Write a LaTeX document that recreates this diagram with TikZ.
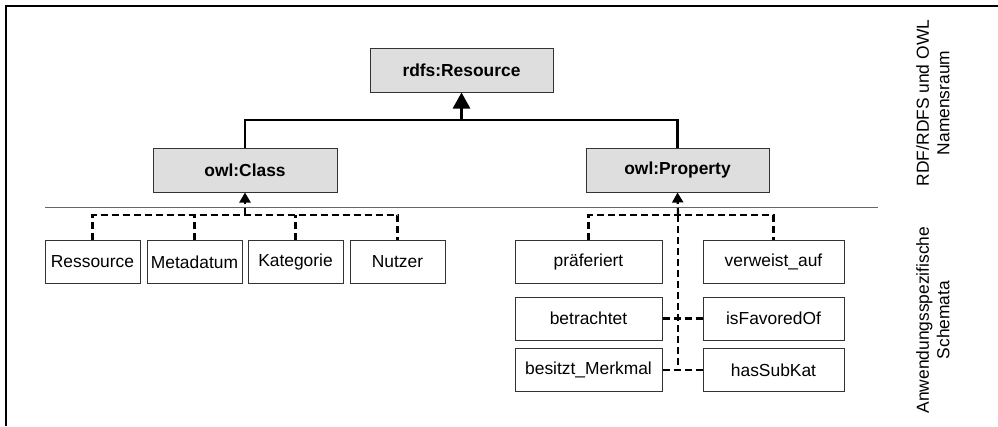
\documentclass[tikz,border=0pt]{standalone}
\usepackage{fontspec}
\setmainfont{Liberation Sans}
\usetikzlibrary{arrows.meta}

\newcommand{\boxfont}{\fontsize{17.4}{20.5}\selectfont}
\tikzset{
  graybox/.style={draw=black!80,line width=1pt,fill=black!13,font=\boxfont\bfseries,
    inner sep=0pt,minimum height=44pt},
  whitebox/.style={draw=black!80,line width=1pt,fill=white,font=\boxfont,
    inner sep=0pt,minimum height=43pt},
  solidlink/.style={line width=2.7pt},
  dashlink/.style={line width=2.2pt,dash pattern=on 7pt off 4pt},
}

\begin{document}
\begin{tikzpicture}[x=1pt,y=-1pt,font=\boxfont]
\path[use as bounding box] (0,0) rectangle (998,426);
% frame and separator
\draw[line width=1.5pt] (6,426)--(6,6)--(998,6);
\draw[black!60,line width=1pt] (45,207)--(878,207);

% RDF/RDFS and OWL
\node[graybox,minimum width=183pt] (res) at (461.5,70) {rdfs:Resource};
\node[graybox,minimum width=184pt] (cls) at (245,170) {owl:Class};
\node[graybox,minimum width=183pt] (prop) at (677.5,170) {owl:Property};
\coordinate (rj) at (461.5,120);
\draw[solidlink] (cls.north) |- (rj) -| (prop.north);
\draw[solidlink,-{Triangle[width=17pt,length=16pt]}] (rj) -- (res.south);

% classes
\node[whitebox,minimum width=95pt] (ress) at (92.5,262) {Ressource};
\node[whitebox,minimum width=95pt] (meta) at (194.5,262) {Metadatum};
\node[whitebox,minimum width=95pt] (kat) at (295.5,262) {Kategorie};
\node[whitebox,minimum width=95pt] (nutz) at (397.5,262) {Nutzer};
\coordinate (cj) at (245,215);
\draw[dashlink] (ress.north) |- (cj) -| (nutz.north);
\draw[dashlink] (meta.north) -- (meta.north |- cj) (kat.north) -- (kat.north |- cj);
\draw[dashlink,-{Triangle[width=11pt,length=10pt]}] (cj) -- (cls.south);

% properties
\node[whitebox,minimum width=147pt] (pref) at (588.5,261.5) {präferiert};
\node[whitebox,minimum width=141pt] (verw) at (773.5,261.5) {verweist\_auf};
\node[whitebox,minimum width=147pt] (betr) at (588.5,318.5) {betrachtet};
\node[whitebox,minimum width=141pt] (fav) at (773.5,318.5) {isFavoredOf};
\node[whitebox,minimum width=147pt] (besm) at (588.5,370) {besitzt\_Merkmal};
\node[whitebox,minimum width=141pt] (sub) at (773.5,370) {hasSubKat};
\coordinate (pj) at (678,215);
\draw[dashlink] (pref.north) |- (pj) -| (verw.north);
\draw[dashlink] (pj) -- (pj |- besm.east);
\draw[dashlink] (betr.east) -- (fav.west) (besm.east) -- (sub.west);
\draw[dashlink,-{Triangle[width=11pt,length=10pt]}] (pj) -- (prop.south);

% side labels
\node[rotate=90,align=center] (top) at (933,103) {RDF/RDFS und OWL\\Namensraum};
\node[rotate=90,align=center] (bot) at (933,320) {Anwendungsspezifische\\Schemata};
\end{tikzpicture}
\end{document}
